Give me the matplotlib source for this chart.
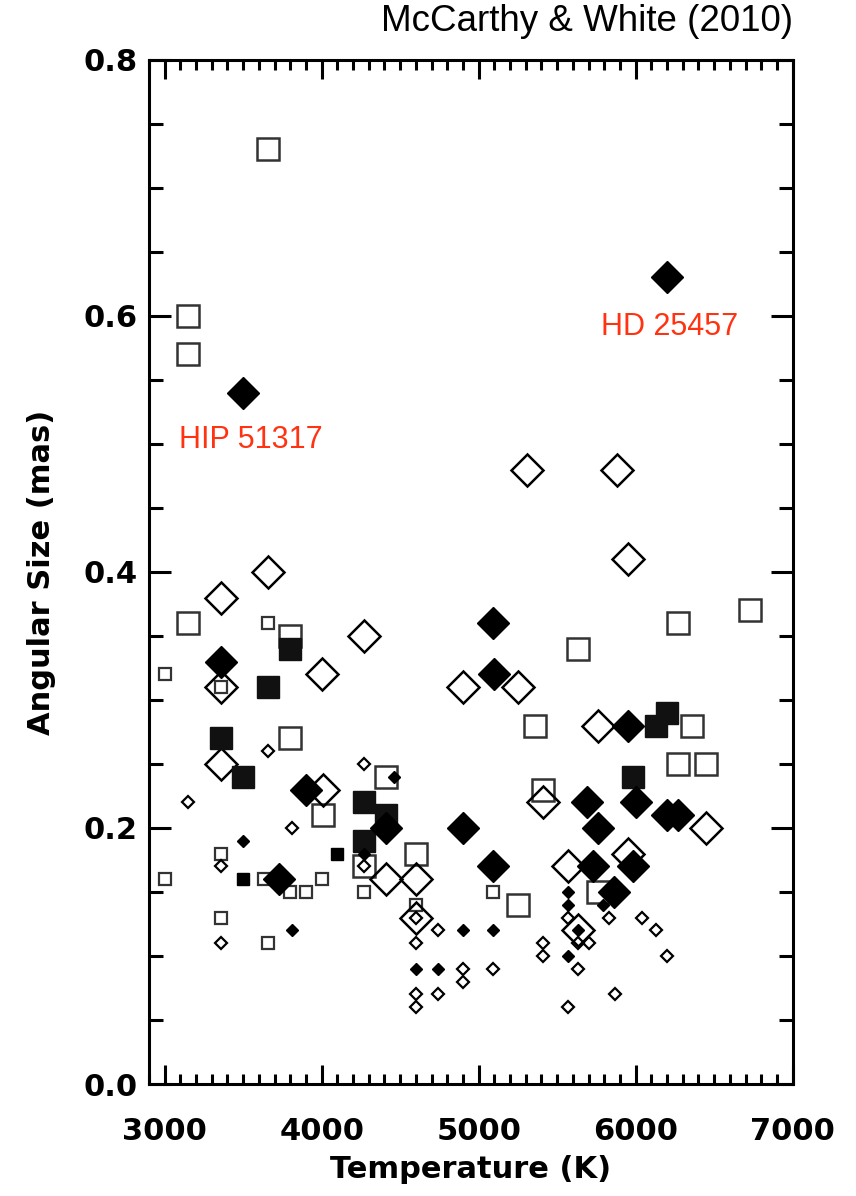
import numpy as np
import matplotlib
matplotlib.use('Agg')
import matplotlib.pyplot as plt
from matplotlib.ticker import MultipleLocator

# large open squares
big_open_sq_t = [3660, 3150, 3150, 3150, 3800, 3800, 4010, 4410, 4600, 4270,
                 5630, 6270, 6730, 5360, 6360, 6270, 6450, 5410, 5250, 5760]
big_open_sq_a = [0.73, 0.60, 0.57, 0.36, 0.35, 0.27, 0.21, 0.24, 0.18, 0.17,
                 0.34, 0.36, 0.37, 0.28, 0.28, 0.25, 0.25, 0.23, 0.14, 0.15]

# large filled squares
big_fill_sq_t = [3360, 3500, 3660, 3800, 4270, 4270, 4410, 6130, 6200, 5980]
big_fill_sq_a = [0.27, 0.24, 0.31, 0.34, 0.22, 0.19, 0.21, 0.28, 0.29, 0.24]

# large open diamonds
big_open_di_t = [5310, 5880, 5950, 3360, 3660, 4270, 3360, 3360, 4000, 4010, 4410,
                 4600, 4600, 4900, 5250, 5760, 5410, 6450, 5570, 5950, 5630]
big_open_di_a = [0.48, 0.48, 0.41, 0.38, 0.40, 0.35, 0.31, 0.25, 0.32, 0.23, 0.16,
                 0.16, 0.13, 0.31, 0.31, 0.28, 0.22, 0.20, 0.17, 0.18, 0.12]

# large filled diamonds
big_fill_di_t = [6200, 3500, 3360, 3900, 4410, 3730, 4900, 5090, 5100, 5950,
                 5690, 5760, 6000, 6200, 6270, 5090, 5730, 5980, 5860]
big_fill_di_a = [0.63, 0.54, 0.33, 0.23, 0.20, 0.16, 0.20, 0.36, 0.32, 0.28,
                 0.22, 0.20, 0.22, 0.21, 0.21, 0.17, 0.17, 0.17, 0.15]

# small open squares
sm_open_sq_t = [3000, 3360, 3660, 3000, 3360, 3360, 3660, 3800, 3900, 4000,
                4270, 4600, 5090, 3630]
sm_open_sq_a = [0.32, 0.31, 0.36, 0.16, 0.18, 0.13, 0.11, 0.15, 0.15, 0.16,
                0.15, 0.14, 0.15, 0.16]

# small filled squares
sm_fill_sq_t = [3500, 4100]
sm_fill_sq_a = [0.16, 0.18]

# small open diamonds
sm_open_di_t = [3360, 3360, 3810, 3150, 3660, 4270, 4270, 4600, 4600, 4600,
                4600, 4740, 4740, 4900, 4900, 5090, 5570, 5630, 5700, 5410,
                5410, 5630, 5570, 5830, 6040, 6130, 6200, 5870]
sm_open_di_a = [0.17, 0.11, 0.20, 0.22, 0.26, 0.25, 0.17, 0.13, 0.11, 0.07,
                0.06, 0.12, 0.07, 0.09, 0.08, 0.09, 0.13, 0.11, 0.11, 0.11,
                0.10, 0.09, 0.06, 0.13, 0.13, 0.12, 0.10, 0.07]

# small filled diamonds
sm_fill_di_t = [4460, 3500, 3810, 4270, 4600, 4740, 4900, 5090, 5570, 5570,
                5790, 5630, 5570]
sm_fill_di_a = [0.24, 0.19, 0.12, 0.18, 0.09, 0.09, 0.12, 0.12, 0.15, 0.14,
                0.14, 0.12, 0.10]

fig = plt.figure(figsize=(8.56, 11.96), dpi=100)
ax = fig.add_axes([0.174, 0.0936, 0.752, 0.8564])

ax.plot(big_open_sq_t, big_open_sq_a, 's', ms=15.5, mfc='none', mec='#333333', mew=1.8, ls='none')
ax.plot(sm_open_sq_t, sm_open_sq_a, 's', ms=8.3, mfc='none', mec='#333333', mew=1.6, ls='none')
ax.plot(big_open_di_t, big_open_di_a, 'D', ms=16.5, mfc='none', mec='black', mew=1.8, ls='none')
ax.plot(sm_open_di_t, sm_open_di_a, 'D', ms=5.8, mfc='none', mec='black', mew=1.6, ls='none')
ax.plot(big_fill_sq_t, big_fill_sq_a, 's', ms=15.5, mfc='#111111', mec='#111111', mew=1.0, ls='none')
ax.plot(sm_fill_sq_t, sm_fill_sq_a, 's', ms=8.3, mfc='black', mec='black', mew=1.0, ls='none')
ax.plot(big_fill_di_t, big_fill_di_a, 'D', ms=16.5, mfc='black', mec='black', mew=1.0, ls='none')
ax.plot(sm_fill_di_t, sm_fill_di_a, 'D', ms=5.8, mfc='black', mec='black', mew=1.0, ls='none')

ax.set_xlim(2900, 7000)
ax.set_ylim(0.0, 0.8)
ax.xaxis.set_major_locator(MultipleLocator(1000))
ax.xaxis.set_minor_locator(MultipleLocator(100))
ax.yaxis.set_major_locator(MultipleLocator(0.2))
ax.yaxis.set_minor_locator(MultipleLocator(0.05))
ax.set_yticks([0.0, 0.2, 0.4, 0.6, 0.8])
ax.set_yticklabels(['0.0', '0.2', '0.4', '0.6', '0.8'])
ax.tick_params(which='both', direction='in', top=True, right=True, width=2.2,
               labelsize=22)
ax.tick_params(axis='x', which='major', length=14, pad=24)
ax.tick_params(axis='x', which='minor', length=7)
ax.tick_params(axis='y', which='major', length=16, pad=8)
ax.tick_params(axis='y', which='minor', length=10)
for lab in ax.get_xticklabels() + ax.get_yticklabels():
    lab.set_fontweight('bold')
for sp in ax.spines.values():
    sp.set_linewidth(2.2)

ax.set_xlabel('Temperature (K)', fontsize=22, fontweight='bold', labelpad=6)
ax.set_ylabel('Angular Size (mas)', fontsize=22, fontweight='bold', labelpad=20)

ax.text(3090, 0.497, 'HIP 51317', color='#ff3311', fontsize=22, family='Liberation Sans')
ax.text(5780, 0.585, 'HD 25457', color='#ff3311', fontsize=22, family='Liberation Sans')
fig.text(0.926, 0.982, 'McCarthy & White (2010)', ha='right', va='center',
         fontsize=26.5, family='Liberation Sans')

fig.savefig('out.png', dpi=100)
